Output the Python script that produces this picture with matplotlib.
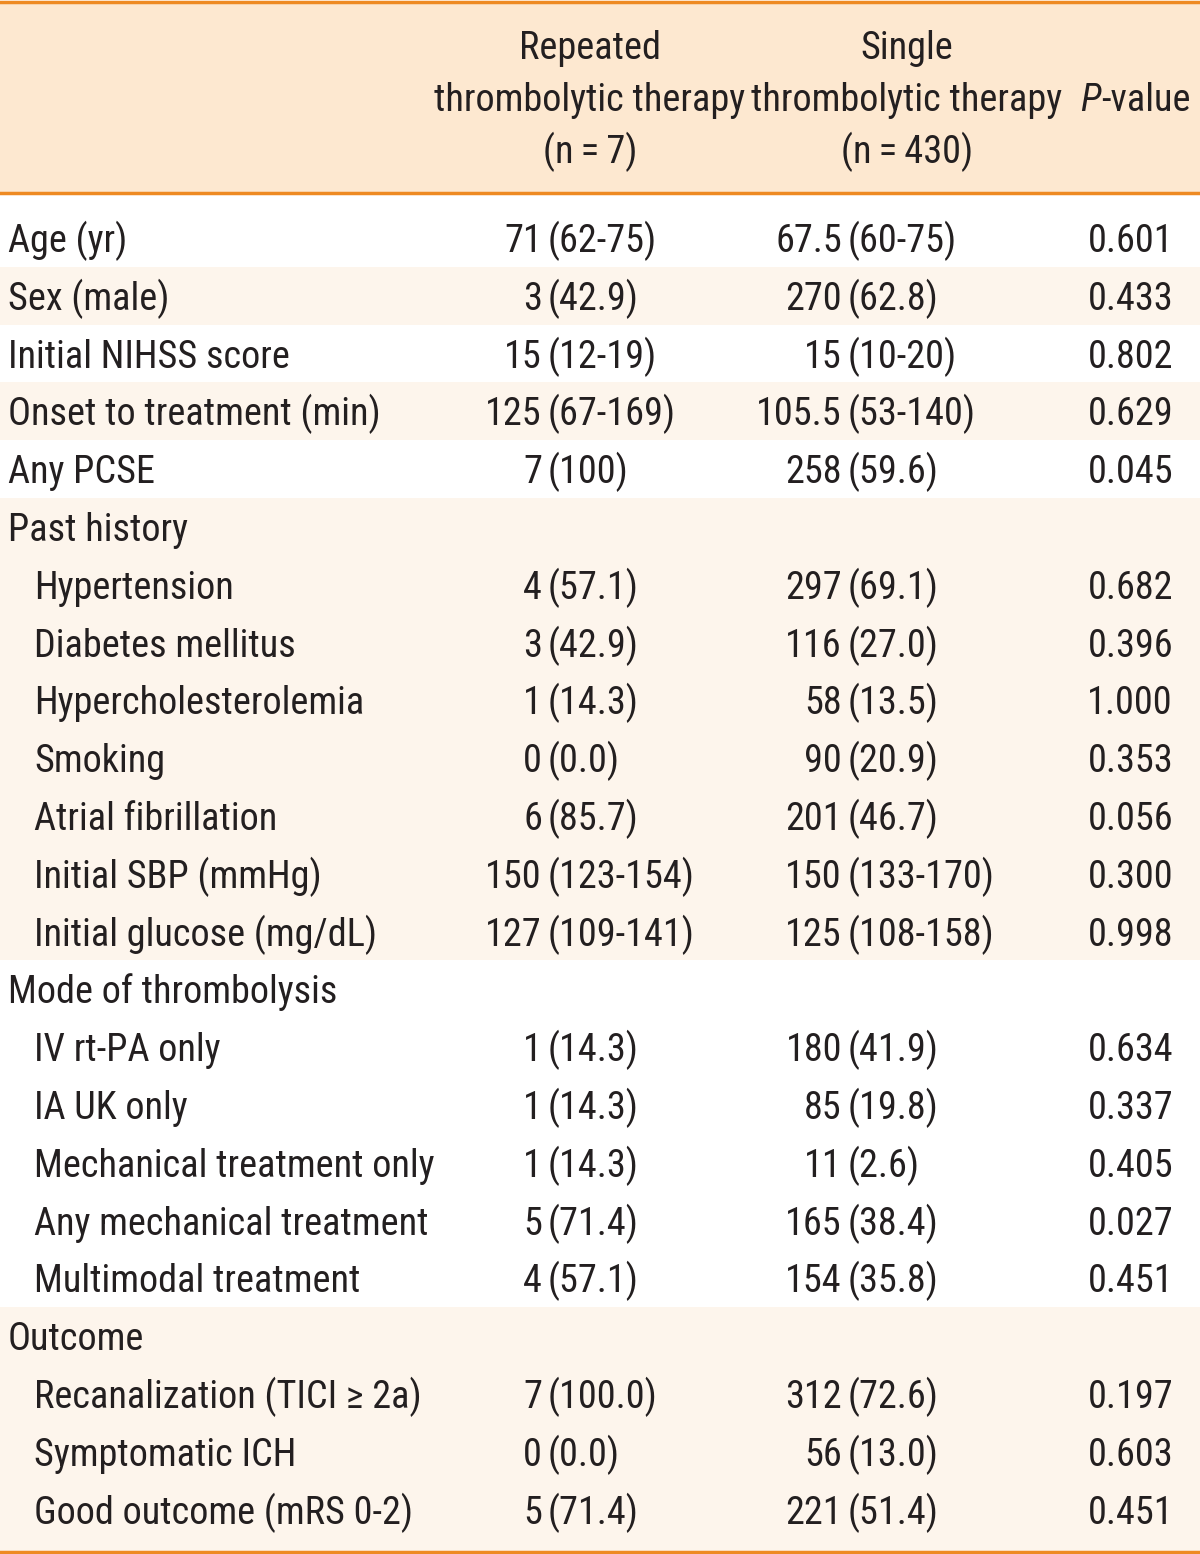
import matplotlib.pyplot as plt
from matplotlib.patches import Rectangle

plt.rcParams['font.family'] = ['Roboto Condensed', 'Liberation Sans', 'DejaVu Sans']

# table content
labels = ['Age (yr)', 'Sex (male)', 'Initial NIHSS score', 'Onset to treatment (min)', 'Any PCSE',
          'Past history', 'Hypertension', 'Diabetes mellitus', 'Hypercholesterolemia', 'Smoking',
          'Atrial fibrillation', 'Initial SBP (mmHg)', 'Initial glucose (mg/dL)',
          'Mode of thrombolysis', 'IV rt-PA only', 'IA UK only', 'Mechanical treatment only',
          'Any mechanical treatment', 'Multimodal treatment',
          'Outcome', 'Recanalization (TICI \u2265 2a)', 'Symptomatic ICH', 'Good outcome (mRS 0-2)']
indent = [0, 0, 0, 0, 0,
          0, 1, 1, 1, 1, 1, 1, 1,
          0, 1, 1, 1, 1, 1,
          0, 1, 1, 1]
repeated = ['71 (62-75)', '3 (42.9)', '15 (12-19)', '125 (67-169)', '7 (100)',
            '', '4 (57.1)', '3 (42.9)', '1 (14.3)', '0 (0.0)', '6 (85.7)', '150 (123-154)', '127 (109-141)',
            '', '1 (14.3)', '1 (14.3)', '1 (14.3)', '5 (71.4)', '4 (57.1)',
            '', '7 (100.0)', '0 (0.0)', '5 (71.4)']
single = ['67.5 (60-75)', '270 (62.8)', '15 (10-20)', '105.5 (53-140)', '258 (59.6)',
          '', '297 (69.1)', '116 (27.0)', '58 (13.5)', '90 (20.9)', '201 (46.7)', '150 (133-170)', '125 (108-158)',
          '', '180 (41.9)', '85 (19.8)', '11 (2.6)', '165 (38.4)', '154 (35.8)',
          '', '312 (72.6)', '56 (13.0)', '221 (51.4)']
pvals = ['0.601', '0.433', '0.802', '0.629', '0.045',
         '', '0.682', '0.396', '1.000', '0.353', '0.056', '0.300', '0.998',
         '', '0.634', '0.337', '0.405', '0.027', '0.451',
         '', '0.197', '0.603', '0.451']
shaded = [1, 3, 5, 6, 7, 8, 9, 10, 11, 12, 19, 20, 21, 22]

orange = '#EE8A22'
head_bg = '#FDE8D0'
row_bg = '#FDF5EC'
ink = '#231F20'
fs = 27.5

fig = plt.figure(figsize=(12, 15.54), dpi=100)
ax = fig.add_axes([0, 0, 1, 1])
ax.set_xlim(0, 1200)
ax.set_ylim(1554, 0)
ax.axis('off')

# header
ax.add_patch(Rectangle((0, 2), 1200, 191, color=head_bg, lw=0))
ax.axhline(2, color=orange, lw=2.5)
ax.axhline(193, color=orange, lw=2.5)
ax.axhline(1552, color=orange, lw=2.5)

hdr1 = ['Repeated', 'thrombolytic therapy', '(n\u2009=\u20097)']
hdr2 = ['Single', 'thrombolytic therapy', '(n\u2009=\u2009430)']
for j, (a, b) in enumerate(zip(hdr1, hdr2)):
    yb = 59 + j * 52
    ax.text(590, yb, a, ha='center', va='baseline', fontsize=fs, color=ink)
    ax.text(907, yb, b, ha='center', va='baseline', fontsize=fs, color=ink)
ax.text(1101, 111, 'P', ha='right', va='baseline', fontsize=fs, color=ink, style='italic')
ax.text(1101, 111, '-value', ha='left', va='baseline', fontsize=fs, color=ink)

step = 57.8
base0 = 252
for i in range(len(labels)):
    yb = base0 + i * step
    if i in shaded:
        h = step if i < len(labels) - 1 else 1552 - (yb - 43)
        ax.add_patch(Rectangle((0, yb - 43), 1200, h, color=row_bg, lw=0, zorder=0))
    ax.text(8 + 26 * indent[i], yb, labels[i], ha='left', va='baseline', fontsize=fs, color=ink)
    for val, xp in ((repeated[i], 548), (single[i], 848)):
        if val:
            num, rest = val.split(' ', 1)
            ax.text(xp - 6, yb, num, ha='right', va='baseline', fontsize=fs, color=ink)
            ax.text(xp, yb, rest, ha='left', va='baseline', fontsize=fs, color=ink)
    if pvals[i]:
        ax.text(1173, yb, pvals[i], ha='right', va='baseline', fontsize=fs, color=ink)

fig.savefig('out.png', dpi=100)
